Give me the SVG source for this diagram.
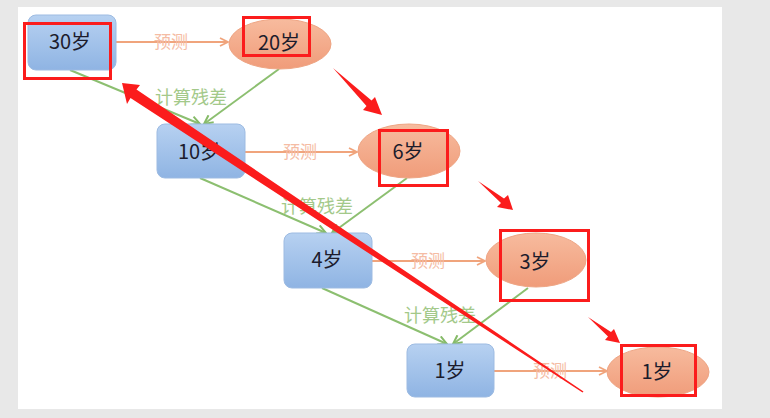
<svg xmlns="http://www.w3.org/2000/svg" width="770" height="418" viewBox="0 0 770 418">
<defs>
<linearGradient id="gBlue" x1="0" y1="0" x2="0" y2="1"><stop offset="0" stop-color="#b7d1f1"/><stop offset="1" stop-color="#8fb4e3"/></linearGradient>
<linearGradient id="gOr" x1="0" y1="0" x2="0" y2="1"><stop offset="0" stop-color="#f7bb9e"/><stop offset="1" stop-color="#f09c7a"/></linearGradient>
<marker id="mO" markerUnits="userSpaceOnUse" viewBox="0 0 10 10" refX="9" refY="5" markerWidth="10" markerHeight="10" orient="auto"><path d="M1,1 L9,5 L1,9" fill="none" stroke="#f0a47c" stroke-width="1.8"/></marker>
<marker id="mG" markerUnits="userSpaceOnUse" viewBox="0 0 10 10" refX="9" refY="5" markerWidth="11" markerHeight="11" orient="auto"><path d="M1,1 L9,5 L1,9" fill="none" stroke="#86bb68" stroke-width="1.8"/></marker>
</defs>
<style>
.box{fill:url(#gBlue);stroke:#9dbbe2;stroke-width:1}
.ell{fill:url(#gOr);stroke:#eea584;stroke-width:1}
.nt{font-family:"Noto Sans CJK SC","Liberation Sans",sans-serif;font-size:20px;fill:#1c1c2c;text-anchor:middle}
.ol{stroke:#f0a47c;stroke-width:2;fill:none;marker-end:url(#mO)}
.gl{stroke:#8cbf70;stroke-width:2;fill:none;marker-end:url(#mG)}
.pl{font-family:"Noto Sans CJK SC","Liberation Sans",sans-serif;font-size:17px;fill:#f5bca4;text-anchor:middle}
.gt{font-family:"Noto Sans CJK SC","Liberation Sans",sans-serif;font-size:18px;fill:#a3c98a;text-anchor:middle}
.rb{fill:none;stroke:#fb1c1c;stroke-width:3}
.ra{fill:#fb1c1c}
</style>
<rect x="0" y="0" width="770" height="418" fill="#e8e8e8"/>
<rect x="18" y="7" width="704" height="402" fill="#ffffff"/>
<g id="connectors">
<line class="ol" x1="116" y1="42" x2="228" y2="42"/>
<line class="ol" x1="245" y1="152" x2="357" y2="152"/>
<line class="ol" x1="372" y1="261" x2="485" y2="261"/>
<line class="ol" x1="494" y1="371" x2="607" y2="371"/>
<line class="gl" x1="70" y1="70" x2="200" y2="124"/>
<line class="gl" x1="279" y1="69" x2="204" y2="124"/>
<line class="gl" x1="200" y1="178" x2="326" y2="233"/>
<line class="gl" x1="407" y1="178" x2="332" y2="233"/>
<line class="gl" x1="322" y1="288" x2="447" y2="344"/>
<line class="gl" x1="528" y1="288" x2="453" y2="344"/>
<text class="pl" x="171" y="48">预测</text>
<text class="pl" x="300" y="158">预测</text>
<text class="pl" x="428" y="267">预测</text>
<text class="pl" x="550" y="377">预测</text>
<text class="gt" x="191" y="104">计算残差</text>
<text class="gt" x="317" y="213">计算残差</text>
<text class="gt" x="440" y="322">计算残差</text>
</g>
<g id="n30"><rect class="box" x="28" y="15" width="88" height="55" rx="8"/><text class="nt" x="70" y="49">30岁</text></g>
<g id="n20"><ellipse class="ell" cx="280" cy="44" rx="51" ry="25"/><text class="nt" x="279" y="50">20岁</text></g>
<g id="n10"><rect class="box" x="157" y="124" width="88" height="54" rx="8"/><text class="nt" x="199" y="159">10岁</text></g>
<g id="n6"><ellipse class="ell" cx="409" cy="151" rx="51" ry="27"/><text class="nt" x="408" y="159">6岁</text></g>
<g id="n4"><rect class="box" x="284" y="233" width="88" height="55" rx="8"/><text class="nt" x="327" y="267">4岁</text></g>
<g id="n3"><ellipse class="ell" cx="536" cy="260" rx="50" ry="27"/><text class="nt" x="535" y="269">3岁</text></g>
<g id="n1a"><rect class="box" x="407" y="344" width="87" height="53" rx="8"/><text class="nt" x="450" y="378">1岁</text></g>
<g id="n1b"><ellipse class="ell" cx="658" cy="372" rx="51" ry="25"/><text class="nt" x="657" y="379">1岁</text></g>
<g id="annotations">
<rect class="rb" x="24.5" y="23.5" width="86" height="55"/>
<rect class="rb" x="243.5" y="17.5" width="66" height="38"/>
<rect class="rb" x="379.5" y="130.5" width="68" height="55"/>
<rect class="rb" x="500.5" y="230.5" width="88" height="70"/>
<rect class="rb" x="621.5" y="345.5" width="74" height="50"/>
<polygon class="ra" points="122,83 140,85 136.5,89.5 583.5,391.5 582.5,392.5 130.5,98 127,104"/>
<polygon class="ra" points="333,68 371.5,100.5 375,97 382,115 363,110 366.5,106"/>
<polygon class="ra" points="478,181 504,198.5 508,195 513,210 497,207 501,203"/>
<polygon class="ra" points="588,317 611,332 614,329 620,343 605,340 608,336.5"/>
</g>
</svg>
